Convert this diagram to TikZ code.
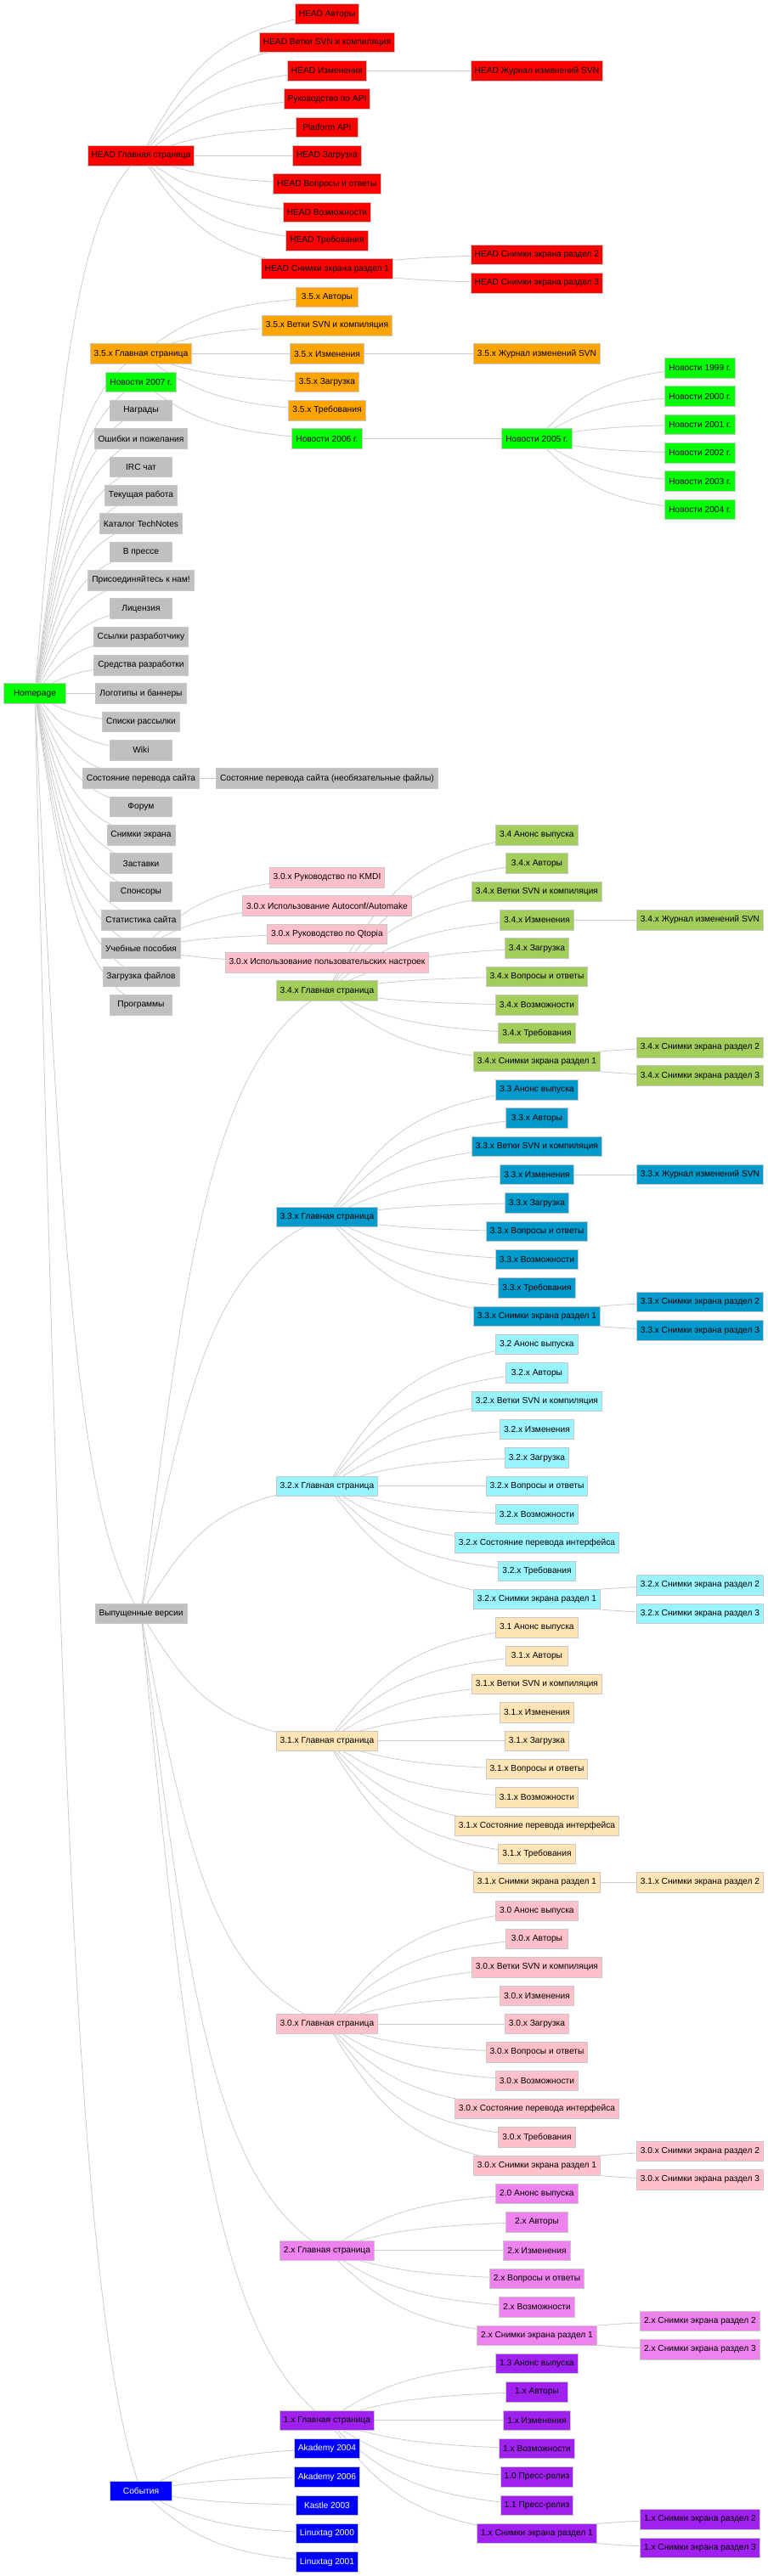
\documentclass[tikz,border=0pt]{standalone}
\usepackage{fontspec}
\setmainfont{Liberation Sans}
\usetikzlibrary{calc,backgrounds}
\definecolor{bordc}{RGB}{200,200,200}
\definecolor{linkc}{RGB}{204,204,204}
\definecolor{cHead}{RGB}{255,0,0}
\definecolor{cOrange}{RGB}{255,165,0}
\definecolor{cGreen}{RGB}{0,255,0}
\definecolor{cGray}{RGB}{192,192,192}
\definecolor{cPink}{RGB}{255,192,203}
\definecolor{cThreeFour}{RGB}{162,205,90}
\definecolor{cThreeThree}{RGB}{0,154,205}
\definecolor{cThreeTwo}{RGB}{152,245,255}
\definecolor{cThreeOne}{RGB}{255,228,181}
\definecolor{cTwo}{RGB}{238,130,238}
\definecolor{cOne}{RGB}{160,32,240}
\definecolor{cBlue}{RGB}{0,0,255}
\tikzset{
  nd/.style={draw=bordc, line width=0.9pt, minimum width=73pt, minimum height=23.5pt,
    inner xsep=4.5pt, inner ysep=0pt, font=\fontsize{10.2pt}{12pt}\selectfont, text=black},
  headn/.style={nd, fill=cHead},
  orn/.style={nd, fill=cOrange},
  grn/.style={nd, fill=cGreen},
  gyn/.style={nd, fill=cGray},
  pkn/.style={nd, fill=cPink},
  vfour/.style={nd, fill=cThreeFour},
  vthree/.style={nd, fill=cThreeThree},
  vtwo/.style={nd, fill=cThreeTwo},
  vone/.style={nd, fill=cThreeOne},
  vzero/.style={nd, fill=cPink},
  vtwox/.style={nd, fill=cTwo},
  vonex/.style={nd, fill=cOne},
  bln/.style={nd, fill=cBlue, text=white},
  link/.style={draw=linkc, line width=0.8pt},
}
\newcommand\conn[2]{\draw[link] let \p1=(#1.center), \p2=(#2.center) in
  (#1.center) .. controls ({\x1+0.25*(\x2-\x1)},{\y1+0.6*(\y2-\y1)})
  and ({\x1+0.4*(\x2-\x1)},{\y2-0.1*(\y2-\y1)}) .. (#2.center);}
\begin{document}
\begin{tikzpicture}[x=1pt,y=-33.3333pt]
\useasboundingbox (0,0) rectangle (904,91);
% ---------- root and column B ----------
\node[grn] (home) at (41,24.5) {Homepage};
\node[headn] (hgl) at (166,5.5) {HEAD Главная страница};
\node[orn] (fgl) at (166,12.5) {3.5.x Главная страница};
\node[grn] (n07) at (166,13.5) {Новости 2007 г.};
\node[gyn] (awards) at (166,14.5) {Награды};
\node[gyn] (bugs) at (166,15.5) {Ошибки и пожелания};
\node[gyn] (irc) at (166,16.5) {IRC чат};
\node[gyn] (cur) at (166,17.5) {Текущая работа};
\node[gyn] (tech) at (166,18.5) {Каталог TechNotes};
\node[gyn] (press) at (166,19.5) {В прессе};
\node[gyn] (join) at (166,20.5) {Присоединяйтесь к нам!};
\node[gyn] (lic) at (166,21.5) {Лицензия};
\node[gyn] (devl) at (166,22.5) {Ссылки разработчику};
\node[gyn] (tools) at (166,23.5) {Средства разработки};
\node[gyn] (logo) at (166,24.5) {Логотипы и баннеры};
\node[gyn] (mail) at (166,25.5) {Списки рассылки};
\node[gyn] (wiki) at (166,26.5) {Wiki};
\node[gyn] (trans) at (166,27.5) {Состояние перевода сайта};
\node[gyn] (forum) at (166,28.5) {Форум};
\node[gyn] (shots) at (166,29.5) {Снимки экрана};
\node[gyn] (splash) at (166,30.5) {Заставки};
\node[gyn] (spons) at (166,31.5) {Спонсоры};
\node[gyn] (stats) at (166,32.5) {Статистика сайта};
\node[gyn] (tut) at (166,33.5) {Учебные пособия};
\node[gyn] (dl) at (166,34.5) {Загрузка файлов};
\node[gyn] (apps) at (166,35.5) {Программы};
\node[gyn] (rel) at (166,57.0) {Выпущенные версии};
\node[bln] (ev) at (166,88.0) {События};
% ---------- HEAD ----------
\node[headn] (h1) at (385,0.5) {HEAD Авторы};
\node[headn] (h2) at (385,1.5) {HEAD Ветки SVN и компиляция};
\node[headn] (h3) at (385,2.5) {HEAD Изменения};
\node[headn] (h3j) at (632,2.5) {HEAD Журнал изменений SVN};
\node[headn] (h4) at (385,3.5) {Руководство по API};
\node[headn] (h5) at (385,4.5) {Platform API};
\node[headn] (h6) at (385,5.5) {HEAD Загрузка};
\node[headn] (h7) at (385,6.5) {HEAD Вопросы и ответы};
\node[headn] (h8) at (385,7.5) {HEAD Возможности};
\node[headn] (h9) at (385,8.5) {HEAD Требования};
\node[headn] (h10) at (385,9.5) {HEAD Снимки экрана раздел 1};
\node[headn] (h10b) at (632,9.0) {HEAD Снимки экрана раздел 2};
\node[headn] (h10c) at (632,10.0) {HEAD Снимки экрана раздел 3};
% ---------- 3.5.x ----------
\node[orn] (f1) at (385,10.5) {3.5.x Авторы};
\node[orn] (f2) at (385,11.5) {3.5.x Ветки SVN и компиляция};
\node[orn] (f3) at (385,12.5) {3.5.x Изменения};
\node[orn] (f3j) at (632,12.5) {3.5.x Журнал изменений SVN};
\node[orn] (f4) at (385,13.5) {3.5.x Загрузка};
\node[orn] (f5) at (385,14.5) {3.5.x Требования};
% ---------- news ----------
\node[grn] (n06) at (385,15.5) {Новости 2006 г.};
\node[grn] (n05) at (632,15.5) {Новости 2005 г.};
\node[grn] (n99) at (824,13.0) {Новости 1999 г.};
\node[grn] (n00) at (824,14.0) {Новости 2000 г.};
\node[grn] (n01) at (824,15.0) {Новости 2001 г.};
\node[grn] (n02) at (824,16.0) {Новости 2002 г.};
\node[grn] (n03) at (824,17.0) {Новости 2003 г.};
\node[grn] (n04) at (824,18.0) {Новости 2004 г.};
% ---------- misc column C ----------
\node[gyn] (transo) at (385,27.5) {Состояние перевода сайта (необязательные файлы)};
\node[pkn] (tut1) at (385,31.0) {3.0.x Руководство по KMDI};
\node[pkn] (tut2) at (385,32.0) {3.0.x Использование Autoconf/Automake};
\node[pkn] (tut3) at (385,33.0) {3.0.x Руководство по Qtopia};
\node[pkn] (tut4) at (385,34.0) {3.0.x Использование пользовательских настроек};
% ---------- 3.4.x ----------
\node[vfour] (vfgl) at (385,35.0) {3.4.x Главная страница};
\node[vfour] (vfan) at (632,29.5) {3.4 Анонс выпуска};
\node[vfour] (vfau) at (632,30.5) {3.4.x Авторы};
\node[vfour] (vfbr) at (632,31.5) {3.4.x Ветки SVN и компиляция};
\node[vfour] (vfch) at (632,32.5) {3.4.x Изменения};
\node[vfour] (vfjr) at (824,32.5) {3.4.x Журнал изменений SVN};
\node[vfour] (vfdl) at (632,33.5) {3.4.x Загрузка};
\node[vfour] (vffq) at (632,34.5) {3.4.x Вопросы и ответы};
\node[vfour] (vfft) at (632,35.5) {3.4.x Возможности};
\node[vfour] (vfrq) at (632,36.5) {3.4.x Требования};
\node[vfour] (vfsa) at (632,37.5) {3.4.x Снимки экрана раздел 1};
\node[vfour] (vfsb) at (824,37.0) {3.4.x Снимки экрана раздел 2};
\node[vfour] (vfsc) at (824,38.0) {3.4.x Снимки экрана раздел 3};
% ---------- 3.3.x ----------
\node[vthree] (vtgl) at (385,43.0) {3.3.x Главная страница};
\node[vthree] (vtan) at (632,38.5) {3.3 Анонс выпуска};
\node[vthree] (vtau) at (632,39.5) {3.3.x Авторы};
\node[vthree] (vtbr) at (632,40.5) {3.3.x Ветки SVN и компиляция};
\node[vthree] (vtch) at (632,41.5) {3.3.x Изменения};
\node[vthree] (vtjr) at (824,41.5) {3.3.x Журнал изменений SVN};
\node[vthree] (vtdl) at (632,42.5) {3.3.x Загрузка};
\node[vthree] (vtfq) at (632,43.5) {3.3.x Вопросы и ответы};
\node[vthree] (vtft) at (632,44.5) {3.3.x Возможности};
\node[vthree] (vtrq) at (632,45.5) {3.3.x Требования};
\node[vthree] (vtsa) at (632,46.5) {3.3.x Снимки экрана раздел 1};
\node[vthree] (vtsb) at (824,46.0) {3.3.x Снимки экрана раздел 2};
\node[vthree] (vtsc) at (824,47.0) {3.3.x Снимки экрана раздел 3};
% ---------- 3.2.x ----------
\node[vtwo] (vwgl) at (385,52.5) {3.2.x Главная страница};
\node[vtwo] (vwan) at (632,47.5) {3.2 Анонс выпуска};
\node[vtwo] (vwau) at (632,48.5) {3.2.x Авторы};
\node[vtwo] (vwbr) at (632,49.5) {3.2.x Ветки SVN и компиляция};
\node[vtwo] (vwch) at (632,50.5) {3.2.x Изменения};
\node[vtwo] (vwdl) at (632,51.5) {3.2.x Загрузка};
\node[vtwo] (vwfq) at (632,52.5) {3.2.x Вопросы и ответы};
\node[vtwo] (vwft) at (632,53.5) {3.2.x Возможности};
\node[vtwo] (vwst) at (632,54.5) {3.2.x Состояние перевода интерфейса};
\node[vtwo] (vwrq) at (632,55.5) {3.2.x Требования};
\node[vtwo] (vwsa) at (632,56.5) {3.2.x Снимки экрана раздел 1};
\node[vtwo] (vwsb) at (824,56.0) {3.2.x Снимки экрана раздел 2};
\node[vtwo] (vwsc) at (824,57.0) {3.2.x Снимки экрана раздел 3};
% ---------- 3.1.x ----------
\node[vone] (vogl) at (385,61.5) {3.1.x Главная страница};
\node[vone] (voan) at (632,57.5) {3.1 Анонс выпуска};
\node[vone] (voau) at (632,58.5) {3.1.x Авторы};
\node[vone] (vobr) at (632,59.5) {3.1.x Ветки SVN и компиляция};
\node[vone] (voch) at (632,60.5) {3.1.x Изменения};
\node[vone] (vodl) at (632,61.5) {3.1.x Загрузка};
\node[vone] (vofq) at (632,62.5) {3.1.x Вопросы и ответы};
\node[vone] (voft) at (632,63.5) {3.1.x Возможности};
\node[vone] (vost) at (632,64.5) {3.1.x Состояние перевода интерфейса};
\node[vone] (vorq) at (632,65.5) {3.1.x Требования};
\node[vone] (vosa) at (632,66.5) {3.1.x Снимки экрана раздел 1};
\node[vone] (vosb) at (824,66.5) {3.1.x Снимки экрана раздел 2};
% ---------- 3.0.x ----------
\node[vzero] (vzgl) at (385,71.5) {3.0.x Главная страница};
\node[vzero] (vzan) at (632,67.5) {3.0 Анонс выпуска};
\node[vzero] (vzau) at (632,68.5) {3.0.x Авторы};
\node[vzero] (vzbr) at (632,69.5) {3.0.x Ветки SVN и компиляция};
\node[vzero] (vzch) at (632,70.5) {3.0.x Изменения};
\node[vzero] (vzdl) at (632,71.5) {3.0.x Загрузка};
\node[vzero] (vzfq) at (632,72.5) {3.0.x Вопросы и ответы};
\node[vzero] (vzft) at (632,73.5) {3.0.x Возможности};
\node[vzero] (vzst) at (632,74.5) {3.0.x Состояние перевода интерфейса};
\node[vzero] (vzrq) at (632,75.5) {3.0.x Требования};
\node[vzero] (vzsa) at (632,76.5) {3.0.x Снимки экрана раздел 1};
\node[vzero] (vzsb) at (824,76.0) {3.0.x Снимки экрана раздел 2};
\node[vzero] (vzsc) at (824,77.0) {3.0.x Снимки экрана раздел 3};
% ---------- 2.x ----------
\node[vtwox] (xtgl) at (385,79.5) {2.x Главная страница};
\node[vtwox] (xtan) at (632,77.5) {2.0 Анонс выпуска};
\node[vtwox] (xtau) at (632,78.5) {2.x Авторы};
\node[vtwox] (xtch) at (632,79.5) {2.x Изменения};
\node[vtwox] (xtfq) at (632,80.5) {2.x Вопросы и ответы};
\node[vtwox] (xtft) at (632,81.5) {2.x Возможности};
\node[vtwox] (xtsa) at (632,82.5) {2.x Снимки экрана раздел 1};
\node[vtwox] (xtsb) at (824,82.0) {2.x Снимки экрана раздел 2};
\node[vtwox] (xtsc) at (824,83.0) {2.x Снимки экрана раздел 3};
% ---------- 1.x ----------
\node[vonex] (xogl) at (385,85.5) {1.x Главная страница};
\node[vonex] (xoan) at (632,83.5) {1.3 Анонс выпуска};
\node[vonex] (xoau) at (632,84.5) {1.x Авторы};
\node[vonex] (xoch) at (632,85.5) {1.x Изменения};
\node[vonex] (xoft) at (632,86.5) {1.x Возможности};
\node[vonex] (xopa) at (632,87.5) {1.0 Пресс-релиз};
\node[vonex] (xopb) at (632,88.5) {1.1 Пресс-релиз};
\node[vonex] (xosa) at (632,89.5) {1.x Снимки экрана раздел 1};
\node[vonex] (xosb) at (824,89.0) {1.x Снимки экрана раздел 2};
\node[vonex] (xosc) at (824,90.0) {1.x Снимки экрана раздел 3};
% ---------- events ----------
\node[bln] (ak04) at (385,86.5) {Akademy 2004};
\node[bln] (ak06) at (385,87.5) {Akademy 2006};
\node[bln] (ka03) at (385,88.5) {Kastle 2003};
\node[bln] (lt00) at (385,89.5) {Linuxtag 2000};
\node[bln] (lt01) at (385,90.5) {Linuxtag 2001};
% ---------- connectors ----------
\begin{pgfonlayer}{background}
\fill[white] (0,0) rectangle (904,91);
\foreach \c in {hgl,fgl,n07,awards,bugs,irc,cur,tech,press,join,lic,devl,tools,logo,mail,wiki,trans,forum,shots,splash,spons,stats,tut,dl,apps,rel,ev}{\conn{home}{\c}}
\foreach \c in {h1,h2,h3,h4,h5,h6,h7,h8,h9,h10}{\conn{hgl}{\c}}
\conn{h3}{h3j}
\conn{h10}{h10b}
\conn{h10}{h10c}
\foreach \c in {f1,f2,f3,f4,f5}{\conn{fgl}{\c}}
\conn{f3}{f3j}
\conn{n07}{n06}
\conn{n06}{n05}
\foreach \c in {n99,n00,n01,n02,n03,n04}{\conn{n05}{\c}}
\conn{trans}{transo}
\foreach \c in {tut1,tut2,tut3,tut4}{\conn{tut}{\c}}
\foreach \c in {vfgl,vtgl,vwgl,vogl,vzgl,xtgl,xogl}{\conn{rel}{\c}}
\foreach \c in {vfan,vfau,vfbr,vfch,vfdl,vffq,vfft,vfrq,vfsa}{\conn{vfgl}{\c}}
\conn{vfch}{vfjr}
\conn{vfsa}{vfsb}
\conn{vfsa}{vfsc}
\foreach \c in {vtan,vtau,vtbr,vtch,vtdl,vtfq,vtft,vtrq,vtsa}{\conn{vtgl}{\c}}
\conn{vtch}{vtjr}
\conn{vtsa}{vtsb}
\conn{vtsa}{vtsc}
\foreach \c in {vwan,vwau,vwbr,vwch,vwdl,vwfq,vwft,vwst,vwrq,vwsa}{\conn{vwgl}{\c}}
\conn{vwsa}{vwsb}
\conn{vwsa}{vwsc}
\foreach \c in {voan,voau,vobr,voch,vodl,vofq,voft,vost,vorq,vosa}{\conn{vogl}{\c}}
\conn{vosa}{vosb}
\foreach \c in {vzan,vzau,vzbr,vzch,vzdl,vzfq,vzft,vzst,vzrq,vzsa}{\conn{vzgl}{\c}}
\conn{vzsa}{vzsb}
\conn{vzsa}{vzsc}
\foreach \c in {xtan,xtau,xtch,xtfq,xtft,xtsa}{\conn{xtgl}{\c}}
\conn{xtsa}{xtsb}
\conn{xtsa}{xtsc}
\foreach \c in {xoan,xoau,xoch,xoft,xopa,xopb,xosa}{\conn{xogl}{\c}}
\conn{xosa}{xosb}
\conn{xosa}{xosc}
\foreach \c in {ak04,ak06,ka03,lt00,lt01}{\conn{ev}{\c}}
\end{pgfonlayer}
\end{tikzpicture}
\end{document}
